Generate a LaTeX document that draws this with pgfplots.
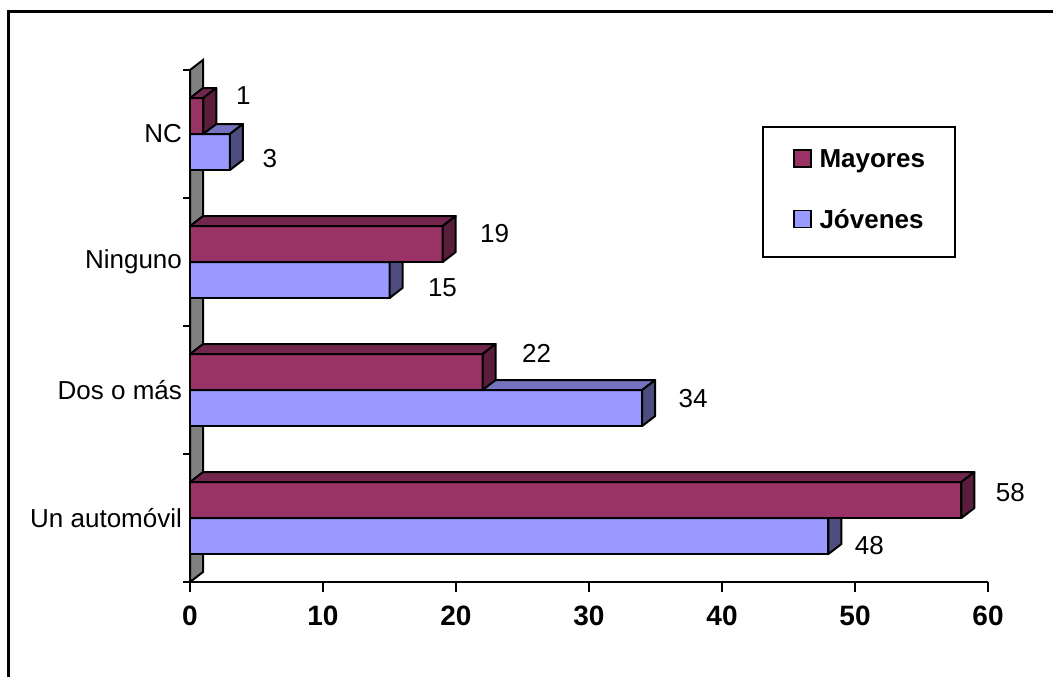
\documentclass[border=0pt]{standalone}
\usepackage{pgfplots}
\pgfplotsset{compat=1.18}
\usepackage{pgfplotstable}
\usepackage{fontspec}
\setmainfont{Liberation Sans}

\definecolor{mfront}{HTML}{993366}
\definecolor{mtop}{HTML}{73264D}
\definecolor{mside}{HTML}{5A1E3C}
\definecolor{jfront}{HTML}{9999FF}
\definecolor{jtop}{HTML}{7373C0}
\definecolor{jside}{HTML}{4D4D80}
\definecolor{wallgray}{HTML}{808080}

\newcommand\chartfont{\fontsize{13}{15.6}\selectfont}

\pgfplotsset{
  /pgf/number format/assume math mode=true,
  vlabels/.style={
    nodes near coords,
    visualization depends on={\thisrow{lx} \as \lx},
    visualization depends on={\thisrow{ly} \as \ly},
    every node near coord/.append style={font=\chartfont, black,
      anchor=center, xshift={0.5pt*\lx}, yshift={-0.5pt*\ly}},
  },
}

% y = category (0 bottom), v = value, lx/ly = label offsets in px
\pgfplotstableread{
y v lx ly
0 58 49 -25
1 22 54 -37
2 19 52 -28
3 1 40 -38
}\mayores
\pgfplotstableread{
y v lx ly
0 48 41 28
1 34 51 9
2 15 53 26
3 3 40 25
}\jovenes

% depth of the 3-D effect, in axis units
\def\dx{0.97744}
\def\dy{0.078125}
\def\bw{0.28125}

% top and side faces of the bars of one series
\newcommand\barfaces[4]{%
  \pgfplotstablegetrowsof{#1}%
  \pgfmathtruncatemacro\nrows{\pgfplotsretval-1}%
  \pgfplotsforeachungrouped \r in {0,...,\nrows}{%
    \pgfplotstablegetelem{\r}{y}\of{#1}\let\cy\pgfplotsretval
    \pgfplotstablegetelem{\r}{v}\of{#1}\let\cv\pgfplotsretval
    \pgfmathsetmacro\ya{\cy+#4}%
    \pgfmathsetmacro\yb{\ya+\bw}%
    \pgfmathsetmacro\yc{\yb+\dy}%
    \pgfmathsetmacro\yd{\ya+\dy}%
    \pgfmathsetmacro\xe{\cv+\dx}%
    \edef\faces{%
      \noexpand\addplot[forget plot, mark=none, fill=#2, draw=black, line width=1pt, line join=round]
        coordinates {(0,\yb) (\cv,\yb) (\xe,\yc) (\dx,\yc)} -- cycle;
      \noexpand\addplot[forget plot, mark=none, fill=#3, draw=black, line width=1pt, line join=round]
        coordinates {(\cv,\ya) (\xe,\yd) (\xe,\yc) (\cv,\yb)} -- cycle;
    }\faces
  }%
}

\begin{document}
\begin{tikzpicture}
\path[use as bounding box] (0,0) rectangle (526.5pt,338.5pt);
\draw[line width=1.5pt] (4pt,0pt) -- (4pt,333pt) -- (526.5pt,333pt);
\begin{axis}[
  at={(95pt,47.5pt)}, anchor=south west,
  scale only axis, width=399pt, height=256pt,
  xmin=0, xmax=60, ymin=-0.5, ymax=3.5,
  clip=false,
  axis x line*=bottom, axis y line*=left,
  axis line style={line width=1pt, -},
  tick align=outside,
  major tick length=5pt,
  minor tick length=3.5pt,
  every tick/.style={black, line width=1pt},
  xtick={0,10,...,60},
  ytick={0,1,2,3},
  yticklabels={Un automóvil, Dos o más, Ninguno, NC},
  minor ytick={-0.5,0.5,1.5,2.5,3.5},
  every major y tick/.append style={draw=none},
  xticklabel style={font=\fontsize{14}{16.8}\selectfont\bfseries, yshift=-3.5pt},
  yticklabel style={font=\chartfont, xshift=4.5pt},
  legend style={at={(0.7168,0.8906)}, anchor=north west, draw=black, line width=1pt,
    font=\chartfont\bfseries,
    inner xsep=15pt, inner ysep=11pt, row sep=18pt,
    nodes={inner sep=0pt, text height=9pt, text depth=3pt},
    /tikz/every odd column/.append style={column sep=4pt}},
  legend cell align=left,
  reverse legend,
]
% back wall
\addplot[forget plot, mark=none, fill=wallgray, draw=black, line width=1pt]
  coordinates {(0,-0.5) (0.97744,-0.421875) (0.97744,3.578125) (0,3.5)} -- cycle;

\addplot[xbar, bar width=18pt, bar shift=-9pt, fill=jfront, draw=black, line width=1pt, vlabels,
  legend image code/.code={\draw[fill=jfront, draw=black, line width=0.75pt] (0pt,-2.5pt) rectangle (8.5pt,6pt);}]
  table[x=v, y=y] {\jovenes};
\addlegendentry{Jóvenes}
\barfaces{\jovenes}{jtop}{jside}{-0.28125}

\addplot[xbar, bar width=18pt, bar shift=9pt, fill=mfront, draw=black, line width=1pt, vlabels,
  legend image code/.code={\draw[fill=mfront, draw=black, line width=0.75pt] (0pt,-2.5pt) rectangle (8.5pt,6pt);}]
  table[x=v, y=y] {\mayores};
\addlegendentry{Mayores}
\barfaces{\mayores}{mtop}{mside}{0}
\end{axis}
\end{tikzpicture}
\end{document}
